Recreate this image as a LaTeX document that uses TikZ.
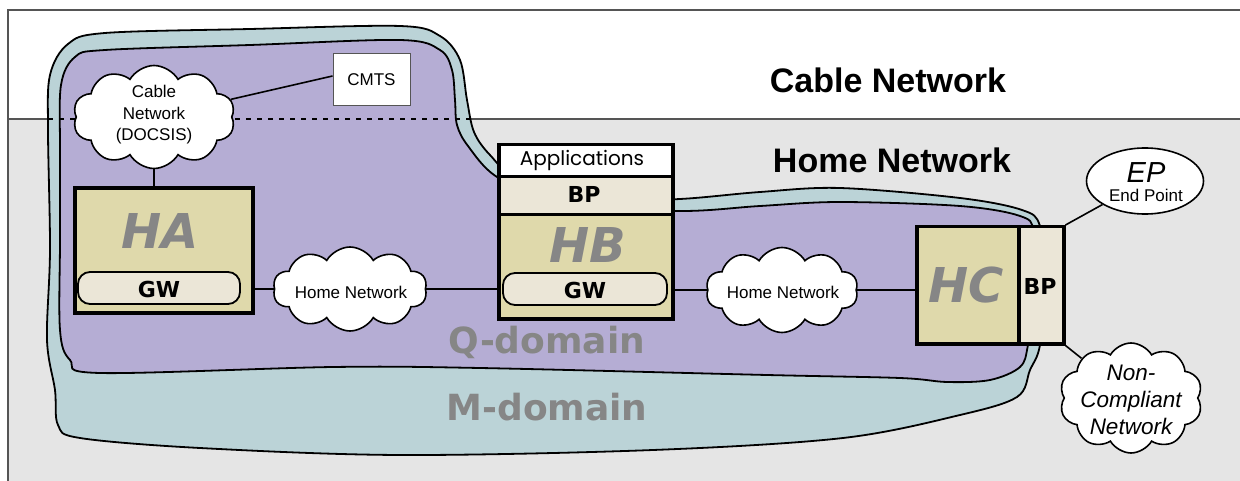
\documentclass[tikz,border=0pt]{standalone}
\usepackage{fontspec}
\setmainfont{Liberation Sans}
\newfontfamily\verd{DejaVu Sans}
\newfontfamily\gothic{Poppins}
\usetikzlibrary{shapes.symbols,shapes.geometric,calc}
\definecolor{bggray}{HTML}{E5E5E5}
\definecolor{framegray}{HTML}{555555}
\definecolor{qpurple}{HTML}{B5ADD4}
\definecolor{mblue}{HTML}{BBD3D7}
\definecolor{boxtan}{HTML}{DFD9AB}
\definecolor{cream}{HTML}{EBE6D7}
\definecolor{hgray}{HTML}{868686}
\begin{document}
\begin{tikzpicture}[x=1pt,y=-1pt,
  cloudy/.style={cloud,cloud puffs=10,cloud puff arc=120,cloud ignores aspect,draw=black,line width=1.6pt,fill=white,inner sep=0pt},
  hbox/.style={rectangle,draw=black,line width=3.5pt,inner sep=0pt,anchor=north west},
  gwbox/.style={rectangle,rounded corners=12pt,draw=black,line width=1.8pt,fill=cream,inner sep=0pt},
  bigh/.style={text=hgray,font=\verd\bfseries\itshape\fontsize{48}{50}\selectfont},
  bpfont/.style={font=\verd\bfseries\fontsize{22}{24}\selectfont},
  netfont/.style={font=\fontsize{17}{21.5}\selectfont,align=center},
  title/.style={font=\bfseries\fontsize{34}{38}\selectfont},
  domlabel/.style={text=hgray,font=\verd\bfseries\fontsize{36}{38}\selectfont},
  conn/.style={draw=black,line width=1.6pt},
  blob/.style={draw=black,line width=1.8pt}]
\useasboundingbox (0,0) rectangle (1240,481);
\begin{scope}
\clip (0,0) rectangle (1240,481);
% background frame
\fill[white] (8,10) rectangle (1250,119);
\fill[bggray] (8,119) rectangle (1250,490);
\draw[framegray,line width=1.5pt] (1250,10) -- (8,10) -- (8,490);
\draw[framegray,line width=1.5pt] (8,119) -- (1250,119);
% M-domain
\filldraw[blob,fill=mblue] plot[smooth cycle,tension=0.55] coordinates {
 (48,130) (50,75) (68,44) (105,33) (250,29) (400,26) (440,36) (460,60) (467,100)
 (474,132) (490,155) (520,180) (600,200) (680,199) (760,192) (840,188) (960,198)
 (1022,210) (1040,226) (1046,280) (1040,345) (1030,370) (1017,397) (960,415)
 (843,438) (653,450) (400,455) (200,448) (80,438) (58,425) (55,390) (47,340) (50,250)};
% Q-domain
\filldraw[blob,fill=qpurple] plot[smooth cycle,tension=0.55] coordinates {
 (60,150) (61,85) (75,57) (105,50) (250,45) (400,40) (440,50) (452,70) (455,100)
 (457,125) (468,146) (497,177) (560,205) (680,211) (760,206) (840,202) (960,206)
 (1020,216) (1034,232) (1036,290) (1028,345) (1020,367) (990,380) (947,382)
 (900,378) (767,375) (480,368) (333,367) (100,373) (70,360) (60,330) (60,240)};
\end{scope}
% dashed boundary across the domains
\coordinate (dl) at (48,119);
\coordinate (dr) at (470,119);
\draw[black,line width=1.8pt,dash pattern=on 5pt off 6pt] (dl) -- (dr);
% titles
\node[title] (tcable) at (888,80) {Cable Network};
\node[title] (thome) at (892,160) {Home Network};
\node[domlabel] (qdom) at (547,342) {Q-domain};
\node[domlabel] (mdom) at (547,407) {M-domain};
% nodes
\node[rectangle,draw=framegray,line width=1pt,fill=white,minimum width=77pt,minimum height=52pt,inner sep=0pt,font=\fontsize{17}{20}\selectfont] (cmts) at (371.5,80) {CMTS};
\node[cloudy,minimum width=162pt,minimum height=103pt] (cab) at (154,117) {};
\node[netfont] (cabt) at (154,115) {Cable\\Network\\(DOCSIS)};
\node[cloudy,minimum width=154pt,minimum height=84pt] (hn1) at (350,289) {};
\node[netfont] (hn1t) at (351,292) {Home Network};
\node[cloudy,minimum width=152pt,minimum height=85pt] (hn2) at (782,290) {};
\node[netfont] (hn2t) at (783,292) {Home Network};
\node[ellipse,draw=black,line width=1.6pt,fill=white,minimum width=117pt,minimum height=66pt,inner sep=0pt] (ep) at (1145,181) {};
\node[font=\itshape\fontsize{29}{30}\selectfont] (ept) at (1146,173) {EP};
\node[font=\fontsize{17}{18}\selectfont] (ept2) at (1146,195) {End Point};
\node[cloudy,minimum width=143pt,minimum height=110pt] (nc) at (1131,398) {};
\node[font=\itshape\fontsize{22.5}{27}\selectfont,align=center] (nct) at (1131,400) {Non-\\Compliant\\Network};
% HA
\node[hbox,line width=4pt,fill=boxtan,minimum width=178pt,minimum height=125pt] (ha) at (73,186) {};
\node[bigh] (hat) at (160,231) {HA};
\node[gwbox,minimum width=162pt,minimum height=32pt] (gwa) at (159,288) {};
\node[bpfont] (gwat) at (159,289) {GW};
% HB
\node[hbox,fill=white,minimum width=174pt,minimum height=32pt] (hbapp) at (497,143) {};
\node[font=\gothic\fontsize{20}{22}\selectfont] (hbappt) at (582,160) {Applications};
\node[hbox,fill=cream,minimum width=174pt,minimum height=38pt] (hbbp) at (497,175) {};
\node[bpfont] (hbbpt) at (584,194) {BP};
\node[hbox,fill=boxtan,minimum width=174pt,minimum height=104pt] (hb) at (497,213) {};
\node[bigh] (hbt) at (588,245) {HB};
\node[gwbox,minimum width=164pt,minimum height=32pt] (gwb) at (585,289) {};
\node[bpfont] (gwbt) at (585,290) {GW};
% HC
\node[hbox,fill=boxtan,minimum width=102pt,minimum height=117pt] (hc) at (915,225) {};
\node[bigh] (hct) at (966,285) {HC};
\node[hbox,fill=cream,minimum width=45pt,minimum height=117pt] (hcbp) at (1017,225) {};
\node[bpfont] (hcbpt) at (1040,286) {BP};
% connectors
\draw[conn] (cab) -- ($(cmts.west)+(0,-4)$);
\draw[conn] (cab) -- (cab |- ha.north);
\draw[conn] (ha.east |- hn1) -- (hn1);
\draw[conn] (hn1) -- (hb.west |- hn1);
\draw[conn] (hb.east |- hn2) -- (hn2);
\draw[conn] (hn2) -- (hc.west |- hn2);
\draw[conn] (hcbp.north east) -- (ep);
\draw[conn] (hcbp.south east) -- (nc);
\end{tikzpicture}
\end{document}
